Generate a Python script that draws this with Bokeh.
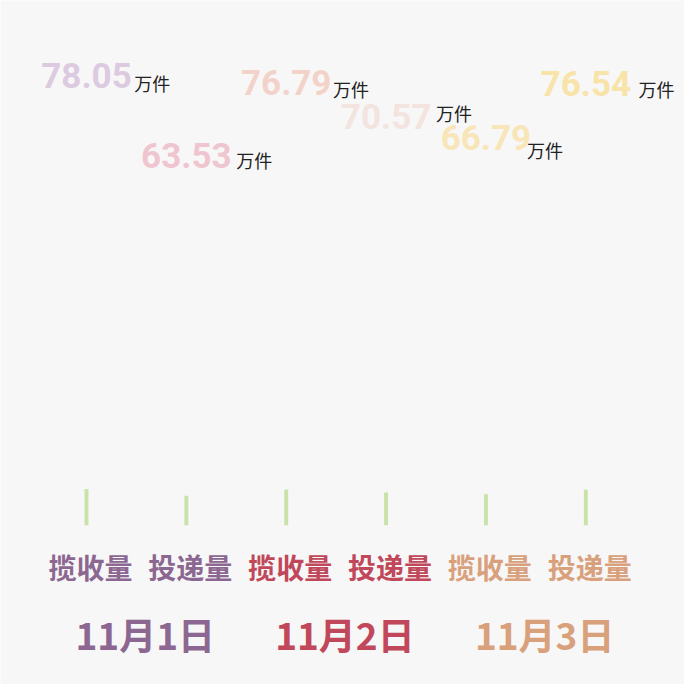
from bokeh.plotting import figure
from bokeh.models import Range1d, ColumnDataSource
from bokeh.core.properties import value
from bokeh.embed import file_html
from bokeh.resources import INLINE

# ---- data ----
dates = ["11月1日", "11月2日", "11月3日"]
metrics = ["揽收量", "投递量"]
values = [78.05, 63.53, 76.79, 70.57, 66.79, 76.54]
unit = "万件"

# ---- styles ----
date_colors = ["#8c6791", "#c0485a", "#d9a07c"]
value_colors = ["#dccbe0", "#efc6cf", "#f3d3c9", "#f3e4df", "#f8e6b8", "#f8e3a8"]
bar_color = "#c8e2a8"
bg = "#f7f7f7"

W = H = 684
s = W / 700.0                 # layout designed on a 700px canvas
step = 102.2 * s              # px between bars
first = 88.0 * s              # px of first bar centre
bar_base = (700 - 537) * s    # px from bottom of bar baseline
bar_ppu = 0.475 * s           # px per unit for bars
lab_base = 182.5 * s          # label scale: px from bottom for value 0
lab_ppu = 5.65 * s            # label scale: px per unit
n = len(values)
idx = list(range(n))

p = figure(width=W, height=H, output_backend="svg", toolbar_location=None,
           x_range=Range1d(-first / step, (W - first) / step),
           y_range=Range1d(-bar_base / bar_ppu, (H - bar_base) / bar_ppu),
           min_border=0, background_fill_color=bg, border_fill_color=bg)
p.outline_line_color = None
p.xaxis.visible = False
p.yaxis.visible = False
p.grid.visible = False

p.extra_y_ranges = {
    "lab": Range1d(-lab_base / lab_ppu, (H - lab_base) / lab_ppu),
    "px": Range1d(H, 0),
}

# bars
src = ColumnDataSource(dict(x=idx, v=values))
p.vbar(x="x", top="v", bottom=0, width=4 * s / step, source=src,
       fill_color=bar_color, line_color=None)

# value labels
unit_dx = [d * s for d in [49, 51, 48, 51, 42, 54]]
unit_dy = [d * s for d in [7.5, 4.5, 6.5, -3.5, 13, 5.5]]
lsrc = ColumnDataSource(dict(x=idx, v=values,
                             t=[f"{v:.2f}" for v in values],
                             c=value_colors,
                             u=[unit] * n, dx=unit_dx, dy=unit_dy))
p.text(x="x", y="v", text="t", source=lsrc, y_range_name="lab",
       text_color="c", text_font=value("Roboto"), text_font_style="bold",
       text_font_size="35px", text_align="center", text_baseline="middle")
p.text(x="x", y="v", text="u", source=lsrc, y_range_name="lab",
       x_offset="dx", y_offset="dy",
       text_color="#222222", text_font=value("Noto Sans CJK SC"),
       text_font_size="18px", text_align="left", text_baseline="middle")

# category labels
cat_text = [metrics[i % 2] for i in idx]
cat_col = [date_colors[i // 2] for i in idx]
csrc = ColumnDataSource(dict(x=idx, y=[580 * s] * n, t=cat_text, c=cat_col))
p.text(x="x", y="y", text="t", source=csrc, y_range_name="px", x_offset=4 * s,
       text_color="c", text_font=value("Noto Sans CJK SC"), text_font_style="bold",
       text_font_size="28px", text_align="center", text_baseline="middle")

# date labels
dx = [(2 * k + 2 * k + 1) / 2 for k in range(len(dates))]
dsrc = ColumnDataSource(dict(x=dx, y=[648 * s] * len(dates), t=dates, c=date_colors))
p.text(x="x", y="y", text="t", source=dsrc, y_range_name="px", x_offset=9 * s,
       text_color="c", text_font=value("Noto Sans CJK SC"), text_font_style="bold",
       text_font_size="37px", text_align="center", text_baseline="middle")

open("out.html", "w").write(file_html(p, INLINE))
